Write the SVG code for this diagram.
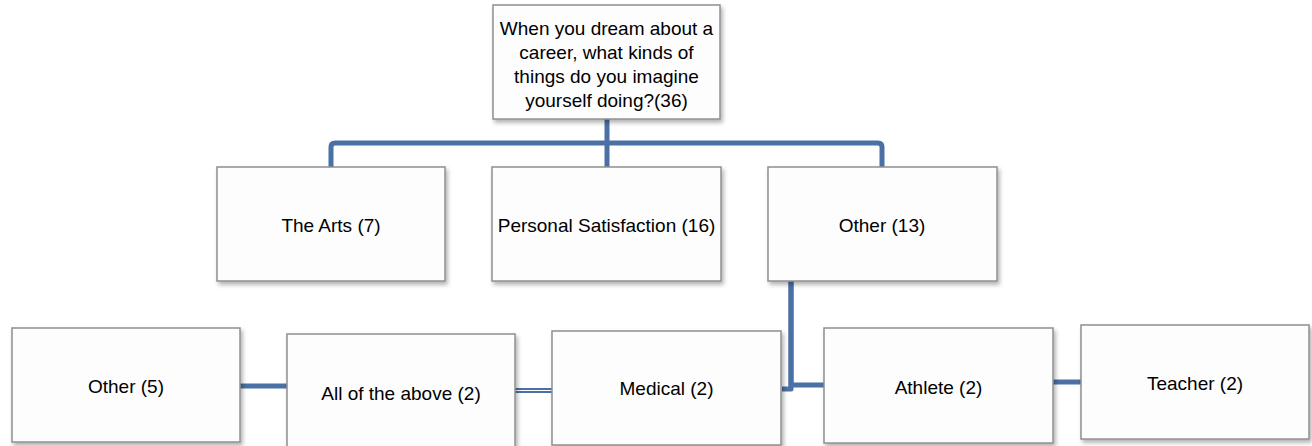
<svg xmlns="http://www.w3.org/2000/svg" width="1312" height="446" viewBox="0 0 1312 446">
<defs>
<filter id="sh" x="-10%" y="-10%" width="130%" height="140%">
<feDropShadow dx="2" dy="3" stdDeviation="2" flood-color="#000" flood-opacity="0.3"/>
</filter>
<style>
.box{fill:#fdfdfd;stroke:#8f8f8f;stroke-width:1.5;filter:url(#sh)}
.t{font-family:"Liberation Sans",Arial,sans-serif;font-size:19px;fill:#000;text-anchor:middle;dominant-baseline:central}
.c{fill:none;stroke:#4a70a6;stroke-width:5;stroke-linejoin:round}
</style>
</defs>
<g id="connectors">
<path class="c" d="M607 119 V167"/>
<path class="c" d="M331 167 V147 Q331 143 335 143 H878 Q882 143 882 147 V167"/>
<path class="c" d="M791 281 V385 H824"/>
<path class="c" d="M791 281 V389 H782"/>
<path class="c" d="M240 386 H287"/>
<path class="c" d="M515 390.5 H552" stroke-width="7.5"/>
<path d="M515 390.5 H552" stroke="#ffffff" stroke-width="1.2" fill="none"/>
<path class="c" d="M1053 382 H1081"/>
</g>
<g id="root">
<rect class="box" x="493" y="5" width="227" height="114"/>
<text class="t" x="606.5" y="28">When you dream about a</text>
<text class="t" x="606.5" y="52">career, what kinds of</text>
<text class="t" x="606.5" y="76">things do you imagine</text>
<text class="t" x="606.5" y="100">yourself doing?(36)</text>
</g>
<g id="arts">
<rect class="box" x="217" y="167" width="228" height="114"/>
<text class="t" x="331" y="225">The Arts (7)</text>
</g>
<g id="personal">
<rect class="box" x="492" y="167" width="229" height="114"/>
<text class="t" x="606.5" y="225">Personal Satisfaction (16)</text>
</g>
<g id="other13">
<rect class="box" x="768" y="167" width="229" height="114"/>
<text class="t" x="882" y="225">Other (13)</text>
</g>
<g id="other5">
<rect class="box" x="12" y="328" width="228" height="114"/>
<text class="t" x="126" y="386">Other (5)</text>
</g>
<g id="allabove">
<rect class="box" x="287" y="334" width="228" height="114"/>
<text class="t" x="401" y="393">All of the above (2)</text>
</g>
<g id="medical">
<rect class="box" x="552" y="331" width="229" height="114"/>
<text class="t" x="666.5" y="388">Medical (2)</text>
</g>
<g id="athlete">
<rect class="box" x="824" y="328" width="229" height="115"/>
<text class="t" x="938.5" y="387">Athlete (2)</text>
</g>
<g id="teacher">
<rect class="box" x="1081" y="325" width="228" height="114"/>
<text class="t" x="1195" y="383">Teacher (2)</text>
</g>
</svg>
